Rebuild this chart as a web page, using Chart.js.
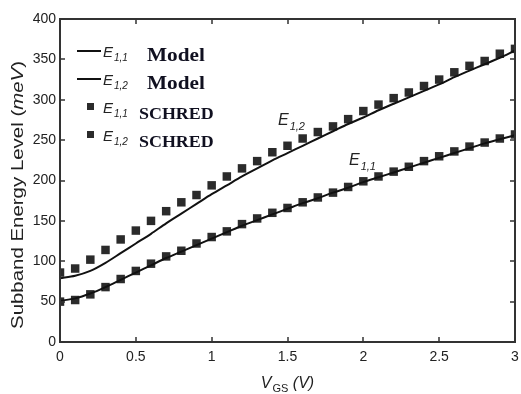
<!DOCTYPE html>
<html><head><meta charset="utf-8">
<script src="https://cdn.jsdelivr.net/npm/chart.js@4/dist/chart.umd.min.js"></script>
<style>html,body{margin:0;padding:0;background:#fff}#wrap{width:521px;height:394px}</style>
</head><body><div id="wrap"><canvas id="c" width="521" height="394"></canvas></div>
<script>
const vgs = [0,0.1,0.2,0.3,0.4,0.5,0.6,0.7,0.8,0.9,1.0,1.1,1.2,1.3,1.4,1.5,1.6,1.7,1.8,1.9,2.0,2.1,2.2,2.3,2.4,2.5,2.6,2.7,2.8,2.9,3.0];
const e11Model = [51,54,60,68,77,86,95,104,112,120,128,136,144,151,158,165,172,178,185,191,198,204,210,216,222,228,234,240,246,251,256];
const e12Model = [79,82,88,98,110,122,134,147,159,171,183,194,205,215,225,234,243,252,261,270,278,287,295,303,311,319,328,336,344,352,361];
const e11Schred = [50,52,59,68,78,88,97,106,113,122,130,137,146,153,160,166,173,179,185,192,199,205,211,217,224,230,236,242,247,252,257];
const e12Schred = [86,91,102,114,127,138,150,162,173,182,194,205,215,224,235,243,252,260,267,276,286,294,302,309,317,325,334,342,348,357,363];
const xTicks = [0,0.5,1,1.5,2,2.5,3];
const yTicks = [0,50,100,150,200,250,300,350,400];

const pts = (ys) => vgs.map((x,i)=>({x:x,y:ys[i]}));

function subText(ctx, main, sub, x, y, mainFont, subFont, dy) {
  ctx.font = mainFont; ctx.fillText(main, x, y);
  const w = ctx.measureText(main).width;
  ctx.font = subFont; ctx.fillText(sub, x + w + 1, y + dy);
  return x + w + 1 + ctx.measureText(sub).width;
}

const deco = {
  id: 'deco',
  afterDraw(chart) {
    const ctx = chart.ctx;
    const xs = chart.scales.x, ys = chart.scales.y;
    const L = Math.round(xs.getPixelForValue(0)), R = Math.round(xs.getPixelForValue(3));
    const T = Math.round(ys.getPixelForValue(400)), B = Math.round(ys.getPixelForValue(0));
    ctx.save();
    ctx.strokeStyle = '#333333';
    ctx.lineWidth = 2;
    ctx.beginPath();
    ctx.moveTo(L, T); ctx.lineTo(R, T); ctx.lineTo(R, B); ctx.lineTo(L, B); ctx.closePath();
    ctx.stroke();
    ctx.lineWidth = 1.5;
    ctx.beginPath();
    xTicks.forEach(v => { const p = Math.round(xs.getPixelForValue(v));
      ctx.moveTo(p, B); ctx.lineTo(p, B - 5);
      ctx.moveTo(p, T); ctx.lineTo(p, T + 5); });
    yTicks.forEach(v => { const p = Math.round(ys.getPixelForValue(v));
      ctx.moveTo(L, p); ctx.lineTo(L + 5, p);
      ctx.moveTo(R, p); ctx.lineTo(R - 5, p); });
    ctx.stroke();

    ctx.fillStyle = '#222'; ctx.textBaseline = 'alphabetic'; ctx.textAlign = 'left';
    const eF = 'italic 15px "Liberation Sans"', sF = 'italic 10px "Liberation Sans"';
    [[51, '1,1'], [79, '1,2']].forEach(([y, s]) => {
      ctx.fillStyle = '#111'; ctx.fillRect(77, y - 1, 24, 2);
      ctx.fillStyle = '#222';
      subText(ctx, 'E', s, 103, y + 6, eF, sF, 4);
      ctx.fillStyle = '#101020';
      ctx.save(); ctx.translate(147, y + 10); ctx.scale(1.12, 1);
      ctx.font = 'bold 19px "Liberation Serif"'; ctx.fillText('Model', 0, 0); ctx.restore();
    });
    [[107, '1,1'], [135, '1,2']].forEach(([y, s]) => {
      ctx.fillStyle = '#2b2b2b'; ctx.fillRect(87, y - 4, 7, 7);
      ctx.fillStyle = '#222';
      subText(ctx, 'E', s, 103, y + 6, eF, sF, 4);
      ctx.fillStyle = '#101020';
      ctx.save(); ctx.translate(139, y + 12); ctx.scale(1.12, 1);
      ctx.font = 'bold 16px "Liberation Serif"'; ctx.fillText('SCHRED', 0, 0); ctx.restore();
    });
    ctx.fillStyle = '#222';
    subText(ctx, 'E', '1,2', 278, 125, 'italic 16px "Liberation Sans"', 'italic 11px "Liberation Sans"', 5);
    subText(ctx, 'E', '1,1', 349, 165, 'italic 16px "Liberation Sans"', 'italic 11px "Liberation Sans"', 5);

    ctx.font = 'italic 16px "Liberation Sans"';
    const w1 = ctx.measureText('V').width;
    ctx.font = '11px "Liberation Sans"';
    const w2 = ctx.measureText('GS').width;
    ctx.font = 'italic 16px "Liberation Sans"';
    const w3 = ctx.measureText(' (V)').width;
    let x0 = (L + R) / 2 - (w1 + w2 + w3 + 1) / 2;
    ctx.fillText('V', x0, 388);
    ctx.font = '11px "Liberation Sans"'; ctx.fillText('GS', x0 + w1 + 1, 392);
    ctx.font = 'italic 16px "Liberation Sans"'; ctx.fillText(' (V)', x0 + w1 + w2 + 1, 388);

    ctx.save();
    ctx.translate(23, 195); ctx.rotate(-Math.PI / 2);
    ctx.font = '17px "Liberation Sans"';
    const t1 = 'Subband Energy Level (', t3 = ')';
    const l1 = ctx.measureText(t1).width, l3 = ctx.measureText(t3).width;
    ctx.font = 'italic 17px "Liberation Sans"';
    const l2 = ctx.measureText('meV').width;
    const tot = l1 + l2 + l3;
    ctx.scale(268 / tot, 1);
    let sx = -tot / 2;
    ctx.font = '17px "Liberation Sans"'; ctx.fillText(t1, sx, 0);
    ctx.font = 'italic 17px "Liberation Sans"'; ctx.fillText('meV', sx + l1, 0);
    ctx.font = '17px "Liberation Sans"'; ctx.fillText(t3, sx + l1 + l2, 0);
    ctx.restore();
    ctx.restore();
  }
};

new Chart(document.getElementById('c'), {
  type: 'line',
  data: {
    datasets: [
      { label: 'E1,1 Model', data: pts(e11Model), borderColor: '#111', borderWidth: 2, pointRadius: 0, tension: 0.3, fill: false },
      { label: 'E1,2 Model', data: pts(e12Model), borderColor: '#111', borderWidth: 2, pointRadius: 0, tension: 0.3, fill: false },
      { label: 'E1,1 SCHRED', data: pts(e11Schred), showLine: false, pointStyle: 'rect', pointRadius: 6, backgroundColor: '#2b2b2b', borderColor: '#2b2b2b', borderWidth: 0 },
      { label: 'E1,2 SCHRED', data: pts(e12Schred), showLine: false, pointStyle: 'rect', pointRadius: 6, backgroundColor: '#2b2b2b', borderColor: '#2b2b2b', borderWidth: 0 }
    ]
  },
  options: {
    responsive: false, animation: false,
    layout: { padding: { top: 19, right: 5, left: 0, bottom: 0 } },
    plugins: { legend: { display: false }, tooltip: { enabled: false } },
    scales: {
      x: { type: 'linear', min: 0, max: 3,
        afterFit: s => { s.height = 52; s.paddingLeft = 0; s.paddingRight = 0; },
        afterBuildTicks: s => { s.ticks = xTicks.map(v => ({ value: v })); },
        grid: { display: false, drawTicks: false }, border: { display: true, color: '#333', width: 2 },
        ticks: { padding: 7, color: '#222', font: { family: 'Liberation Sans', size: 14 }, maxRotation: 0,
          callback: v => String(v) } },
      y: { min: 0, max: 400,
        afterFit: s => { s.width = 60; s.paddingTop = 0; s.paddingBottom = 0; },
        afterBuildTicks: s => { s.ticks = yTicks.map(v => ({ value: v })); },
        grid: { display: false, drawTicks: false }, border: { display: true, color: '#333', width: 2 },
        ticks: { padding: 4, color: '#222', font: { family: 'Liberation Sans', size: 14 }, callback: v => String(v) } }
    }
  },
  plugins: [deco]
});
</script></body></html>
